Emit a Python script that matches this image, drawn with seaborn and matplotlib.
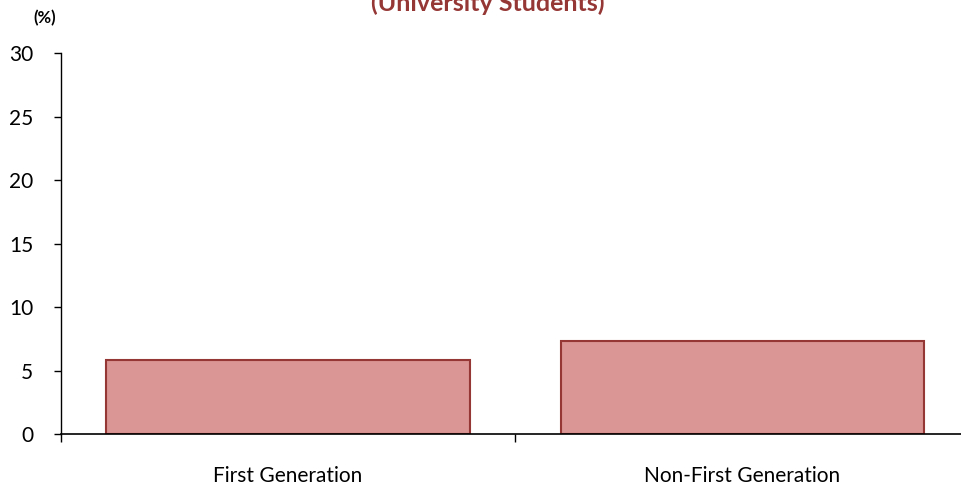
import numpy as np
import pandas as pd
import matplotlib
matplotlib.use('Agg')
import matplotlib.pyplot as plt
import seaborn as sns

# chart data
groups = ['First Generation', 'Non-First Generation']
shares = [5.8, 7.3]
title_text = '(University Students)'
unit_text = '(%)'

sns.set_style('ticks')
plt.rcParams['font.family'] = ['Lato', 'DejaVu Sans']

df = pd.DataFrame({'group': groups, 'share': shares})

fig = plt.figure(figsize=(9.61, 4.88), dpi=100)
ax = fig.add_axes([0.0635, 0.1107, 0.945, 0.78])

sns.barplot(data=df, x='group', y='share', ax=ax, width=0.8,
            color='#D99694', edgecolor='#953735', linewidth=1.5,
            saturation=1, zorder=2)

ax.set_xlim(-0.5, 1.5)
ax.set_ylim(0, 30)
ax.set_yticks(range(0, 31, 5))
ax.tick_params(axis='y', labelsize=15, length=5, width=1, color='black',
               labelcolor='black', pad=15)

# boundary ticks, category labels on minor ticks
ax.set_xticks([-0.5, 0.5, 1.5])
ax.set_xticklabels(['', '', ''])
ax.set_xticks(range(len(groups)), minor=True)
ax.set_xticklabels(groups, minor=True)
ax.tick_params(axis='x', which='major', length=6, width=1, color='black')
ax.tick_params(axis='x', which='minor', length=0, labelsize=15, pad=23,
               labelcolor='black')

ax.set_xlabel('')
ax.set_ylabel('')
sns.despine(ax=ax)
ax.spines['left'].set_linewidth(1)
ax.spines['left'].set_color('black')
ax.spines['bottom'].set_linewidth(1.2)
ax.spines['bottom'].set_color('black')
ax.spines['bottom'].set_zorder(5)

fig.text(0.046, 1 - 18 / 488, unit_text, fontsize=12, fontweight='bold',
         color='black', ha='center', va='center')
fig.text(0.508, 1 - 11 / 488, title_text, fontsize=18, fontweight='bold',
         color='#953735', ha='center', va='baseline')

fig.savefig('out.png', dpi=100)
